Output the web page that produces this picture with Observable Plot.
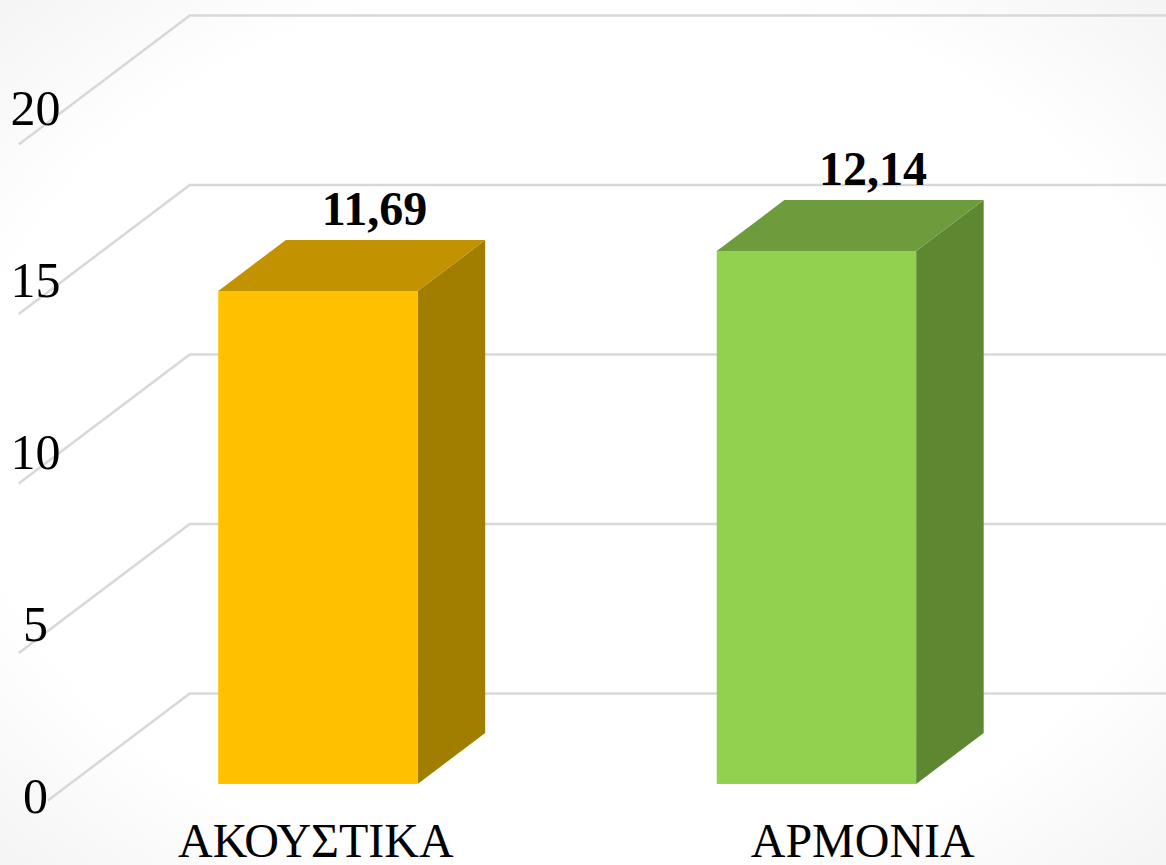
<!DOCTYPE html>
<html>
<head>
<meta charset="utf-8">
<script src="https://cdn.jsdelivr.net/npm/d3@7"></script>
<script src="https://cdn.jsdelivr.net/npm/@observablehq/plot@0.6"></script>
<style>
  html, body { margin: 0; padding: 0; }
  body {
    width: 1166px; height: 865px; overflow: hidden;
    background: radial-gradient(ellipse 80% 80% at 50% 50%, #ffffff 65%, #efefef 100%);
  }
  svg { display: block; }
</style>
</head>
<body>
<div id="chart"></div>
<script>
// ---- data ----
const categories = ["ΑΚΟΥΣΤΙΚΑ", "ΑΡΜΟΝΙΑ"];
const values = [11.69, 12.14];        // data labels shown above the bars
const barHeights = [14.54, 15.72];    // bar heights as read against the axis
const yTicks = [0, 5, 10, 15, 20];

// ---- styles ----
const frontColors = ["#FFC000", "#92D050"];
const topColors = ["#C39200", "#6E9C3D"];
const sideColors = ["#A27E00", "#5E8732"];
const gridColor = "#d8d8d8";
const font = "'Liberation Serif', 'DejaVu Serif', serif";

// oblique 3D projection (depth 0 = back wall, 1 = front of side wall)
const KX = -171 / 498.5;   // x units per depth unit
const KY = -129 / 33.9;    // y units per depth unit
const Z_FRONT = 0.705, Z_BACK = 0.31, HALF = 0.2;
const WALL = 1, FLOOR = 0.83, Z_VAL = 0.377, Z_LABEL = 0.72;
const LABEL_SPREAD = 1.097, TICK_PERSP = 1.0147;
const WALL_LEFT = -0.5, WALL_RIGHT = categories.length;

const bars = categories.map((c, i) => ({c, i, h: barHeights[i], v: values[i]}));

const barMarks = bars.flatMap(d => {
  const xl = d.i - HALF, xr = d.i + HALF;
  return [
    Plot.areaY([
      {x: xr + Z_FRONT * KX, y1: Z_FRONT * KY, y2: d.h + Z_FRONT * KY},
      {x: xr + Z_BACK * KX, y1: Z_BACK * KY, y2: d.h + Z_BACK * KY}
    ], {x: "x", y1: "y1", y2: "y2", fill: sideColors[d.i]}),
    Plot.areaX([
      {y: d.h + Z_FRONT * KY, x1: xl + Z_FRONT * KX, x2: xr + Z_FRONT * KX},
      {y: d.h + Z_BACK * KY, x1: xl + Z_BACK * KX, x2: xr + Z_BACK * KX}
    ], {y: "y", x1: "x1", x2: "x2", fill: topColors[d.i]}),
    Plot.rect([d], {
      x1: e => e.i - HALF + Z_FRONT * KX,
      x2: e => e.i + HALF + Z_FRONT * KX,
      y1: () => Z_FRONT * KY,
      y2: e => e.h + Z_FRONT * KY,
      fill: frontColors[d.i]
    })
  ];
});

const chart = Plot.plot({
  width: 1166,
  height: 865,
  margin: 0,
  style: {background: "transparent", fontFamily: font},
  x: {type: "linear", domain: [0, 1], range: [438.5, 937], axis: null},
  y: {type: "linear", domain: [0, 20], range: [693, 15], axis: null},
  marks: [
    // back wall gridlines
    Plot.ruleY(yTicks, {y: v => v, x1: WALL_LEFT, x2: WALL_RIGHT, stroke: gridColor, strokeWidth: 2.5}),
    // side wall gridlines
    Plot.link(yTicks.filter(v => v > 0), {
      x1: () => WALL_LEFT, y1: v => v,
      x2: () => WALL_LEFT + WALL * KX, y2: v => v + WALL * KY,
      stroke: gridColor, strokeWidth: 2.5
    }),
    Plot.link(yTicks.filter(v => v === 0), {
      x1: () => WALL_LEFT, y1: v => v,
      x2: () => WALL_LEFT + FLOOR * KX, y2: v => v + FLOOR * KY,
      stroke: gridColor, strokeWidth: 2.5
    }),
    ...barMarks,
    // value labels
    Plot.text(bars, {
      x: d => d.i + Z_VAL * KX,
      y: d => d.h + Z_VAL * KY,
      dy: -40,
      text: d => d.v.toFixed(2).replace(".", ","),
      fontSize: 48, fontWeight: "bold", fill: "#000",
      fontFamily: font
    }),
    // y tick labels
    Plot.text(yTicks, {
      y: v => v * TICK_PERSP,
      frameAnchor: "left",
      dx: 35, dy: 103,
      text: v => String(v),
      textAnchor: "middle",
      fontSize: 50, fill: "#000",
      fontFamily: font
    }),
    // category labels
    Plot.text(categories, {
      x: (c, i) => i * LABEL_SPREAD + Z_LABEL * KX,
      frameAnchor: "bottom",
      dy: -9,
      text: c => c,
      fontSize: 48, fill: "#000",
      fontFamily: font
    })
  ]
});

document.getElementById("chart").appendChild(chart);
</script>
</body>
</html>
